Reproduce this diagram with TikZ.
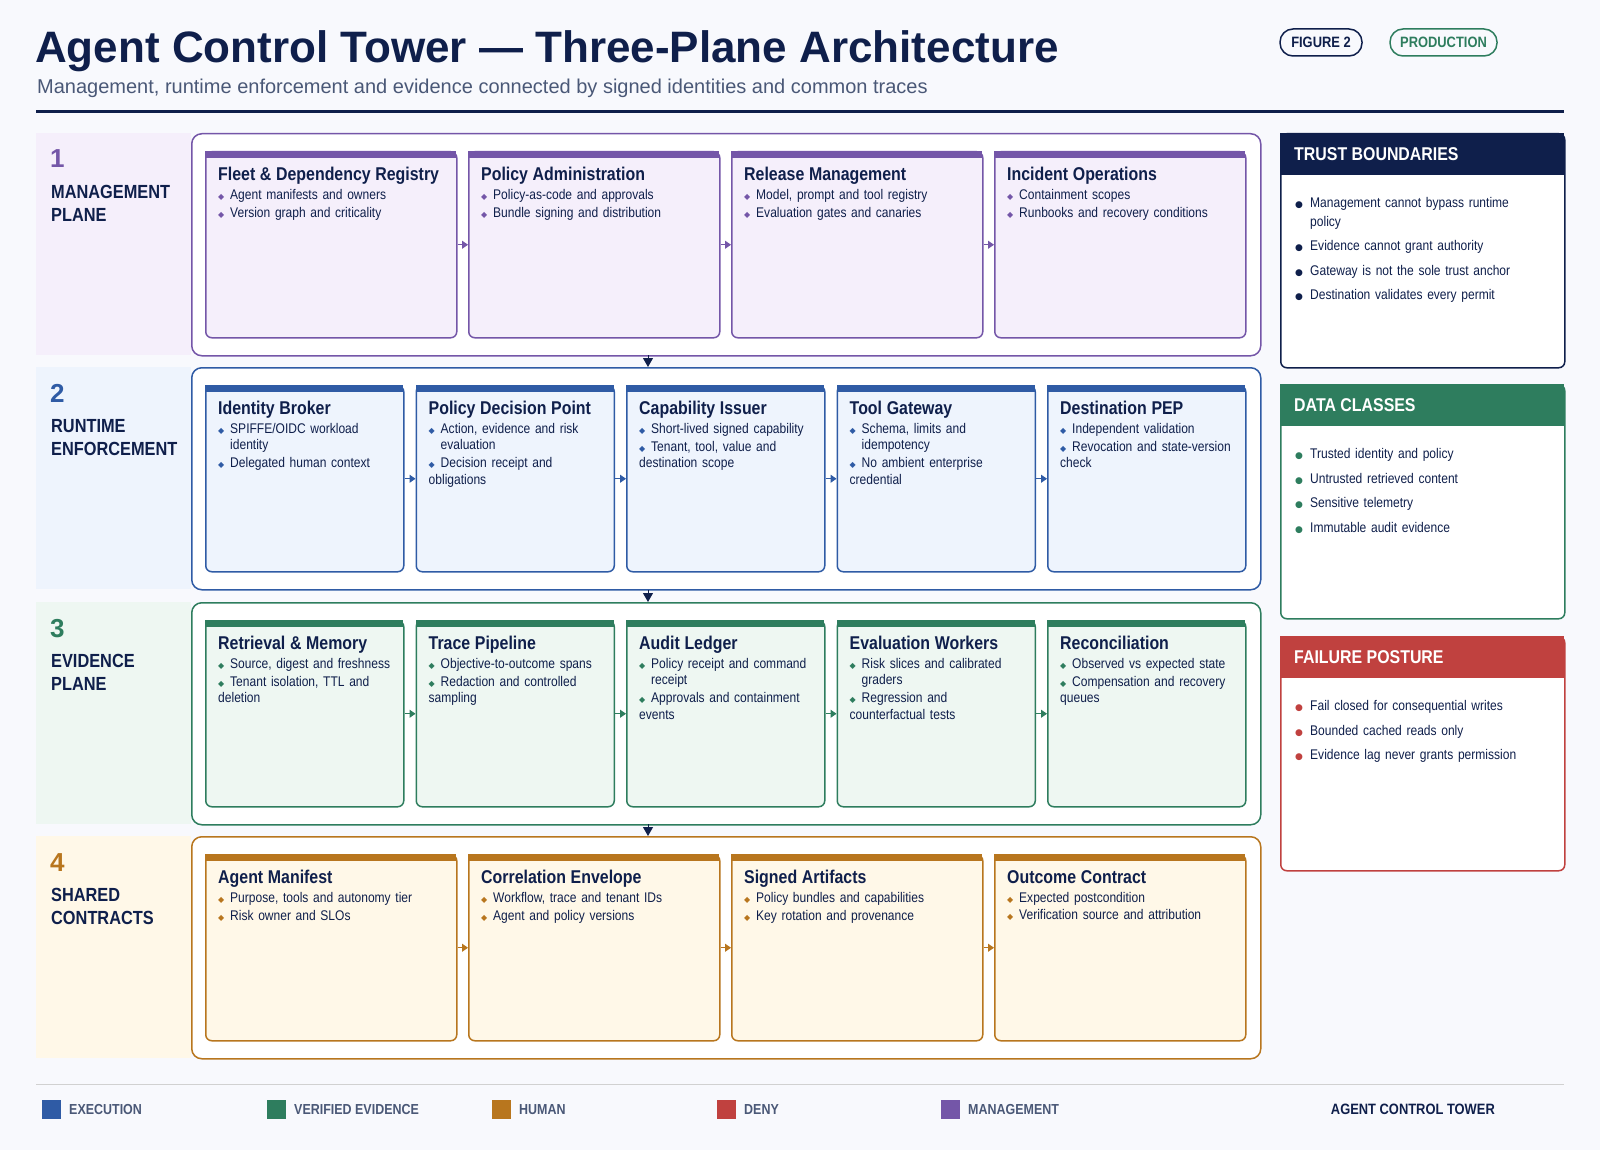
\documentclass[tikz,border=0pt]{standalone}
\usepackage{fontspec}
\setmainfont{Liberation Sans}
\newfontfamily\cond[FakeStretch=0.86]{Liberation Sans}
\newfontfamily\djv{DejaVu Sans}
\usetikzlibrary{arrows.meta}
\definecolor{navy}{HTML}{0F1F4B}
\definecolor{pur}{HTML}{7456A8}
\definecolor{blu}{HTML}{2F5BA5}
\definecolor{grn}{HTML}{2E7D5E}
\definecolor{org}{HTML}{B8761E}
\definecolor{redc}{HTML}{C0413F}
\definecolor{purL}{HTML}{F5EFFB}
\definecolor{bluL}{HTML}{EEF4FD}
\definecolor{grnL}{HTML}{EEF7F2}
\definecolor{orgL}{HTML}{FFF8E8}
\definecolor{bg}{HTML}{F8F9FD}
\definecolor{sub}{HTML}{4A5877}
\newcommand\bc{navy}
\newcommand\bul[1]{\par\vspace{1.6pt}\hangindent=12pt\hangafter=1\noindent\makebox[12pt][l]{\textcolor{\bc}{\djv\fontsize{8}{8}\selectfont ◆}}#1}
\newcommand\sbul[1]{\par\vspace{6pt}\hangindent=15pt\hangafter=1\noindent\makebox[15pt][l]{\textcolor{\bc}{\djv\fontsize{9}{9}\selectfont ●}}#1}
\newcommand\card[8]{%
 \node[draw=#5,fill=#6,line width=1.5pt,rounded corners=6pt,anchor=north west,minimum width=#4pt,minimum height=186pt,inner sep=0pt] (#1) at (#2,#3) {};
 \fill[#5] (#2,#3) rectangle ++(#4,7);
 \node[anchor=north west,text width=#4pt-22pt,inner sep=0pt,align=left,font=\cond\fontsize{14}{16.3}\selectfont,text=navy] (#1t) at (#2+13,#3+16) {{\fontsize{18.5}{20}\selectfont\bfseries #7\par}\vspace{1pt}\renewcommand\bc{#5}#8};
}
\newcommand\rowbox[6]{% name, top, col, fill, num, label
 \node[draw=#3,line width=1.5pt,rounded corners=10pt,anchor=north west,minimum width=1069pt,minimum height=222pt,inner sep=0pt,fill=white] (#1) at (191,#2) {};
 \fill[#4] (36,#2) rectangle (191,#2+222);
 \node[anchor=base west,inner sep=0pt,text=#3,font=\bfseries\fontsize{26}{26}\selectfont] (#1n) at (50,#2+35) {#5};
 \node[anchor=north west,inner sep=0pt,text=navy,align=left,font=\cond\bfseries\fontsize{19}{23}\selectfont] (#1l) at (51,#2+52) {#6};
}
\newcommand\side[6]{% name, top, col, title, height, body
 \node[draw=#3,fill=white,line width=1.5pt,rounded corners=6pt,anchor=north west,minimum width=284pt,minimum height=#5pt,inner sep=0pt] (#1) at (1280,#2) {};
 \fill[#3] (1280,#2) rectangle ++(284,42);
 \node[anchor=west,inner sep=0pt,text=white,font=\cond\bfseries\fontsize{18.5}{20}\selectfont] (#1h) at (1294,#2+21) {#4};
 \node[anchor=north west,inner sep=0pt,text width=255pt,align=left,text=navy,font=\cond\fontsize{14}{18.5}\selectfont] (#1b) at (1295,#2+50) {\renewcommand\bc{#3}#6};
}
\tikzset{rarr/.style={-{Triangle[width=8pt,length=6pt]},line width=1pt}}
\begin{document}
\begin{tikzpicture}[x=1pt,y=-1pt]
\fill[bg] (0,0) rectangle (1600,1150);
\useasboundingbox (0,0) rectangle (1600,1150);
\node[anchor=base west,inner sep=0pt,text=navy,font=\bfseries\fontsize{44}{44}\selectfont] (title) at (35,63) {Agent Control Tower — Three-Plane Architecture};
\node[anchor=base west,inner sep=0pt,text=sub,font=\fontsize{20}{20}\selectfont] (subt) at (37,94) {Management, runtime enforcement and evidence connected by signed identities and common traces};
\draw[navy,line width=3pt] (36,112) -- (1564,112);
\node[draw=navy,line width=1.5pt,rounded corners=13pt,minimum width=82pt,minimum height=27pt,inner sep=0pt,text=navy,font=\cond\bfseries\fontsize{15}{15}\selectfont] (fig) at (1321,42.5) {FIGURE 2};
\node[draw=grn,line width=1.5pt,rounded corners=13pt,minimum width=107pt,minimum height=27pt,inner sep=0pt,text=grn,font=\cond\bfseries\fontsize{15}{15}\selectfont] (prod) at (1443.5,42.5) {PRODUCTION};

% rows
\rowbox{r1}{133}{pur}{purL}{1}{MANAGEMENT\\PLANE}
\rowbox{r2}{367}{blu}{bluL}{2}{RUNTIME\\ENFORCEMENT}
\rowbox{r3}{602}{grn}{grnL}{3}{EVIDENCE\\PLANE}
\rowbox{r4}{836}{org}{orgL}{4}{SHARED\\CONTRACTS}

% row 1
\card{a1}{205}{151}{251}{pur}{purL}{Fleet \& Dependency Registry}{\bul{Agent manifests and owners}\bul{Version graph and criticality}}
\card{a2}{468}{151}{251}{pur}{purL}{Policy Administration}{\bul{Policy-as-code and approvals}\bul{Bundle signing and distribution}}
\card{a3}{731}{151}{251}{pur}{purL}{Release Management}{\bul{Model, prompt and tool registry}\bul{Evaluation gates and canaries}}
\card{a4}{994}{151}{251}{pur}{purL}{Incident Operations}{\bul{Containment scopes}\bul{Runbooks and recovery conditions}}
% row 2
\card{b1}{205}{385}{198}{blu}{bluL}{Identity Broker}{\bul{SPIFFE/OIDC workload\newline identity}\bul{Delegated human context}}
\card{b2}{415.5}{385}{198}{blu}{bluL}{Policy Decision Point}{\bul{Action, evidence and risk\newline evaluation}\bul{Decision receipt and\newline obligations}}
\card{b3}{626}{385}{198}{blu}{bluL}{Capability Issuer}{\bul{Short-lived signed capability}\bul{Tenant, tool, value and\newline destination scope}}
\card{b4}{836.5}{385}{198}{blu}{bluL}{Tool Gateway}{\bul{Schema, limits and\newline idempotency}\bul{No ambient enterprise\newline credential}}
\card{b5}{1047}{385}{198}{blu}{bluL}{Destination PEP}{\bul{Independent validation}\bul{Revocation and state-version\newline check}}
% row 3
\card{c1}{205}{620}{198}{grn}{grnL}{Retrieval \& Memory}{\bul{Source, digest and freshness}\bul{Tenant isolation, TTL and\newline deletion}}
\card{c2}{415.5}{620}{198}{grn}{grnL}{Trace Pipeline}{\bul{Objective-to-outcome spans}\bul{Redaction and controlled\newline sampling}}
\card{c3}{626}{620}{198}{grn}{grnL}{Audit Ledger}{\bul{Policy receipt and command\newline receipt}\bul{Approvals and containment\newline events}}
\card{c4}{836.5}{620}{198}{grn}{grnL}{Evaluation Workers}{\bul{Risk slices and calibrated\newline graders}\bul{Regression and\newline counterfactual tests}}
\card{c5}{1047}{620}{198}{grn}{grnL}{Reconciliation}{\bul{Observed vs expected state}\bul{Compensation and recovery\newline queues}}
% row 4
\card{d1}{205}{854}{251}{org}{orgL}{Agent Manifest}{\bul{Purpose, tools and autonomy tier}\bul{Risk owner and SLOs}}
\card{d2}{468}{854}{251}{org}{orgL}{Correlation Envelope}{\bul{Workflow, trace and tenant IDs}\bul{Agent and policy versions}}
\card{d3}{731}{854}{251}{org}{orgL}{Signed Artifacts}{\bul{Policy bundles and capabilities}\bul{Key rotation and provenance}}
\card{d4}{994}{854}{251}{org}{orgL}{Outcome Contract}{\bul{Expected postcondition}\bul{Verification source and attribution}}

% horizontal arrows
\foreach \a/\b in {a1/a2,a2/a3,a3/a4} \draw[rarr,pur] (\a.east) -- (\b.west);
\foreach \a/\b in {b1/b2,b2/b3,b3/b4,b4/b5} \draw[rarr,blu] (\a.east) -- (\b.west);
\foreach \a/\b in {c1/c2,c2/c3,c3/c4,c4/c5} \draw[rarr,grn] (\a.east) -- (\b.west);
\foreach \a/\b in {d1/d2,d2/d3,d3/d4} \draw[rarr,org] (\a.east) -- (\b.west);
% vertical arrows
\coordinate (v1) at (648,355);
\coordinate (v2) at (648,590);
\coordinate (v3) at (648,824);
\draw[navy,-{Triangle[width=10pt,length=9pt]},line width=1pt] (v1) -- (r2.north -| v1);
\draw[navy,-{Triangle[width=10pt,length=9pt]},line width=1pt] (v2) -- (r3.north -| v2);
\draw[navy,-{Triangle[width=10pt,length=9pt]},line width=1pt] (v3) -- (r4.north -| v3);

% side panels
\side{s1}{133}{navy}{TRUST BOUNDARIES}{234}{\sbul{Management cannot bypass runtime\newline policy}\sbul{Evidence cannot grant authority}\sbul{Gateway is not the sole trust anchor}\sbul{Destination validates every permit}}
\side{s2}{384}{grn}{DATA CLASSES}{234}{\sbul{Trusted identity and policy}\sbul{Untrusted retrieved content}\sbul{Sensitive telemetry}\sbul{Immutable audit evidence}}
\side{s3}{636}{redc}{FAILURE POSTURE}{234}{\sbul{Fail closed for consequential writes}\sbul{Bounded cached reads only}\sbul{Evidence lag never grants permission}}

% legend
\draw[black!18,line width=1pt] (36,1084) -- (1564,1084);
\foreach \x/\c/\t/\n in {42/blu/EXECUTION / DATA/l1,267/grn/VERIFIED EVIDENCE/l2,492/org/HUMAN / RISK/l3,717/redc/DENY / CONTAIN/l4,941/pur/MANAGEMENT/l5}{
  \fill[\c] (\x,1100) rectangle ++(19,19);
  \node[anchor=west,inner sep=0pt,text=sub,font=\cond\bfseries\fontsize{14.5}{15}\selectfont] (\n) at (\x+27,1109.5) {\t};
}
\node[anchor=east,inner sep=0pt,text=navy,font=\cond\bfseries\fontsize{15}{15}\selectfont] (brand) at (1495,1109.5) {AGENT CONTROL TOWER};
\end{tikzpicture}
\end{document}
